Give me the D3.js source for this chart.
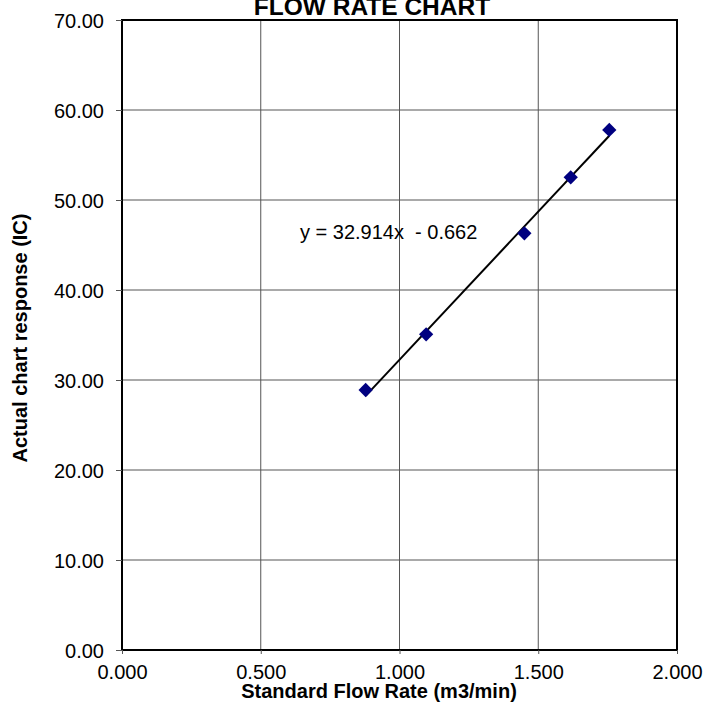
<!DOCTYPE html>
<html><head><meta charset="utf-8">
<script src="https://cdn.jsdelivr.net/npm/d3@7"></script>
<style>body{margin:0;background:#fff}svg{display:block;font-family:Arial,"Liberation Sans",sans-serif}</style>
</head><body><svg id="c" width="713" height="715"></svg>
<script>
const flowRate = [0.878, 1.096, 1.450, 1.617, 1.756];
const chartResponse = [28.89, 35.08, 46.30, 52.52, 57.78];
const xTicks = [0, 0.5, 1.0, 1.5, 2.0];
const yTicks = [0, 10, 20, 30, 40, 50, 60, 70];
const slope = 32.914, intercept = -0.662;
const title = "FLOW RATE CHART";
const xTitle = "Standard Flow Rate (m3/min)";
const yTitle = "Actual chart response (IC)";
const eqLabel = "y = 32.914x  - 0.662";

const svg = d3.select("#c");
const L = 122, R = 677, T = 20, B = 650;
const x = d3.scaleLinear().domain([0, 2]).range([L, R]);
const y = d3.scaleLinear().domain([0, 70]).range([B, T]);
const FF = "Arial,'Liberation Sans',sans-serif";

// grid
svg.append("g").selectAll("line").data(yTicks.slice(1)).join("line")
  .attr("x1", L).attr("x2", R).attr("y1", d => y(d)).attr("y2", d => y(d))
  .attr("stroke", "#555").attr("stroke-width", 1);
svg.append("g").selectAll("line").data(xTicks.slice(1)).join("line")
  .attr("y1", T).attr("y2", B).attr("x1", d => x(d)).attr("x2", d => x(d))
  .attr("stroke", "#555").attr("stroke-width", 1);

// frame
svg.append("rect").attr("x", L).attr("y", T).attr("width", R - L).attr("height", B - T)
  .attr("fill", "none").attr("stroke", "#000").attr("stroke-width", 2);

// axes
const yAxis = d3.axisLeft(y).tickValues(yTicks).tickFormat(d3.format(".2f")).tickSize(6).tickPadding(12);
const gy = svg.append("g").attr("transform", `translate(${L},0)`).call(yAxis);
gy.select(".domain").remove();
gy.selectAll("line").attr("stroke", "#555");
gy.selectAll("text").attr("font-size", 20).attr("fill", "#000").attr("font-family", FF).attr("dy", "0.38em");

const xAxis = d3.axisBottom(x).tickValues(xTicks).tickFormat(d3.format(".3f")).tickSize(4).tickPadding(11);
const gx = svg.append("g").attr("transform", `translate(0,${B})`).call(xAxis);
gx.select(".domain").remove();
gx.selectAll("line").attr("stroke", "#555");
gx.selectAll("text").attr("font-size", 20).attr("fill", "#000").attr("font-family", FF);

// trendline
const xMin = d3.min(flowRate), xMax = d3.max(flowRate);
svg.append("line")
  .attr("x1", x(xMin)).attr("y1", y(slope * xMin + intercept))
  .attr("x2", x(xMax)).attr("y2", y(slope * xMax + intercept))
  .attr("stroke", "#000").attr("stroke-width", 2);

// points
const sym = d3.symbol().type(d3.symbolDiamond2).size(130);
svg.append("g").selectAll("path").data(flowRate).join("path")
  .attr("d", sym)
  .attr("transform", (d, i) => `translate(${x(d)},${y(chartResponse[i])})`)
  .attr("fill", "#000080");

// equation
svg.append("text").attr("x", 300).attr("y", 239).attr("font-size", 20)
  .style("white-space", "pre").text(eqLabel);

// titles
svg.append("text").attr("x", 372).attr("y", 15).attr("text-anchor", "middle")
  .attr("font-size", 24.5).attr("font-weight", "bold").text(title);
svg.append("text").attr("x", 379).attr("y", 698).attr("text-anchor", "middle")
  .attr("font-size", 20).attr("font-weight", "bold").text(xTitle);
svg.append("text").attr("transform", "translate(27,338) rotate(-90)").attr("text-anchor", "middle")
  .attr("font-size", 20).attr("font-weight", "bold").text(yTitle);
</script></body></html>
